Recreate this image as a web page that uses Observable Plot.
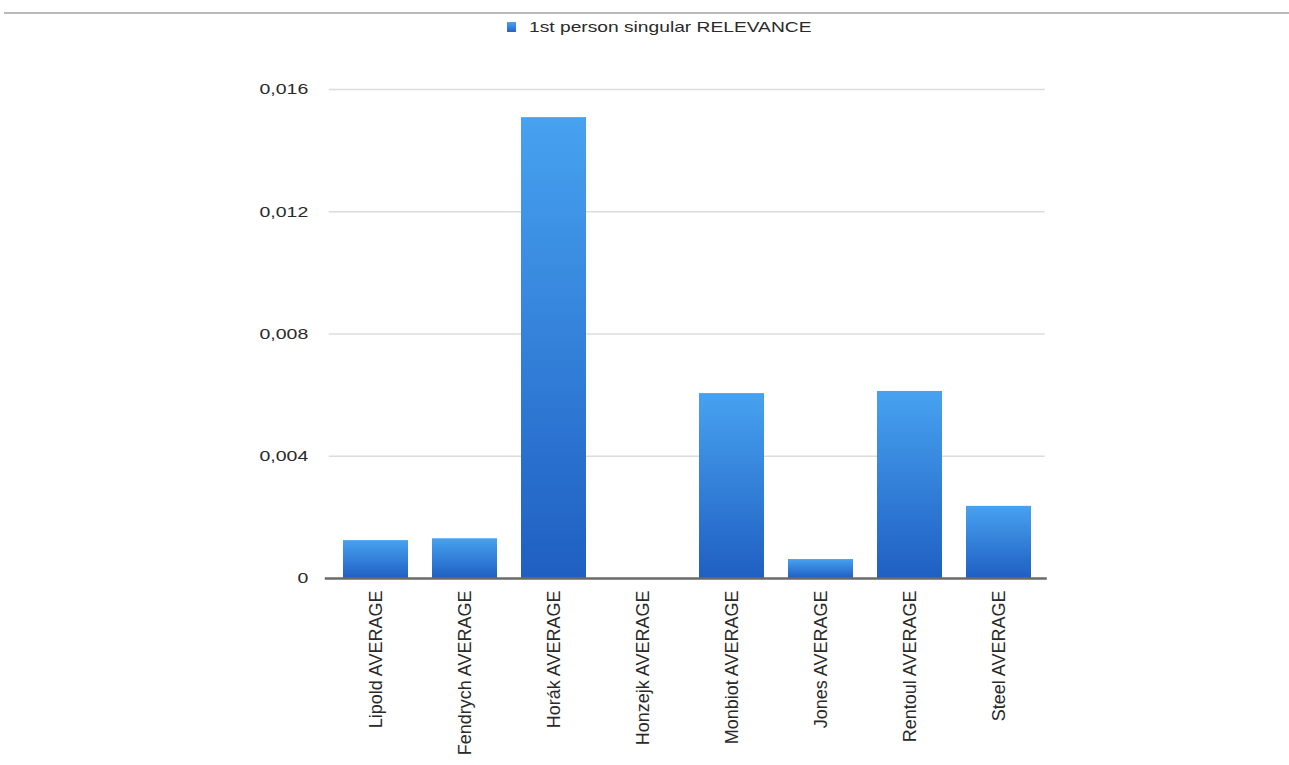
<!DOCTYPE html>
<html>
<head>
<meta charset="utf-8">
<script src="https://cdn.jsdelivr.net/npm/d3@7"></script>
<script src="https://cdn.jsdelivr.net/npm/@observablehq/plot@0.6"></script>
<style>
  body { margin: 0; background: #fff; font-family: "Liberation Sans", Arial, Helvetica, sans-serif; }
  #legend { position: relative; height: 42px; width: 1289px; }
  #legend .rule { position: absolute; left: 4px; right: 0; top: 12px; height: 2px; background: #b9b9b9; }
  #legend .swatch { position: absolute; left: 507px; top: 22px; width: 9px; height: 10px;
    background: linear-gradient(#4aa3f0, #2166c8); }
  #legend .label { position: absolute; left: 529px; top: 18px; font-size: 15px; color: #2a2a2a;
    white-space: nowrap; transform: scaleX(1.28); transform-origin: left center; }
</style>
</head>
<body>
<div id="legend">
  <div class="rule"></div>
  <div class="swatch"></div>
  <div class="label">1st person singular RELEVANCE</div>
</div>
<div id="chart"></div>
<script>
// Average first-person-singular relevance per columnist
const authors = ["Lipold", "Fendrych", "Horák", "Honzejk", "Monbiot", "Jones", "Rentoul", "Steel"];
const relevance = [0.00124, 0.0013, 0.01508, 0, 0.00605, 0.00062, 0.00612, 0.00236];
const yTicks = [0, 0.004, 0.008, 0.012, 0.016];
const categories = authors.map(a => `${a} AVERAGE`);

const data = categories.map((name, i) => ({name, value: relevance[i]}));
const fmt = v => v === 0 ? "0" : String(v).replace(".", ",");

const chart = Plot.plot({
  width: 1289,
  height: 723,
  marginLeft: 328.75,
  marginRight: 244.25,
  marginTop: 47,
  marginBottom: 187,
  style: {fontFamily: "'Liberation Sans', Arial, Helvetica, sans-serif", color: "#2a2a2a", background: "#fff"},
  x: {domain: categories, paddingInner: 0.27, paddingOuter: 0.135, label: null},
  y: {domain: [0, 0.016], label: null},
  marks: [
    Plot.gridY(yTicks.filter(t => t > 0), {stroke: "#dcdcdc", strokeOpacity: 1, strokeWidth: 1.5}),
    Plot.barY(data, {x: "name", y: "value", fill: "url(#barGrad)"}),
    Plot.ruleY([0], {stroke: "#6a6a6a", strokeWidth: 2.5, insetLeft: -4, insetRight: -2}),
    Plot.axisY({ticks: yTicks, tickFormat: fmt, tickSize: 0, tickPadding: 21, fontSize: 15, label: null}),
    Plot.axisX({tickRotate: -90, tickSize: 0, tickPadding: 12, fontSize: 18, label: null})
  ]
});

document.getElementById("chart").appendChild(chart);

// Vertical gradient used to fill every bar
const svg = d3.select(chart);
const grad = svg.insert("defs", ":first-child")
  .append("linearGradient")
  .attr("id", "barGrad")
  .attr("x1", 0).attr("y1", 0).attr("x2", 0).attr("y2", 1);
grad.append("stop").attr("offset", "0%").attr("stop-color", "#47a2f0");
grad.append("stop").attr("offset", "100%").attr("stop-color", "#1f5fc2");

// Widen the value labels horizontally
svg.selectAll('g[aria-label="y-axis tick label"] text').each(function() {
  const t = this.getAttribute("transform") || "";
  this.setAttribute("transform", t + " scale(1.3,1)");
});
</script>
</body>
</html>
